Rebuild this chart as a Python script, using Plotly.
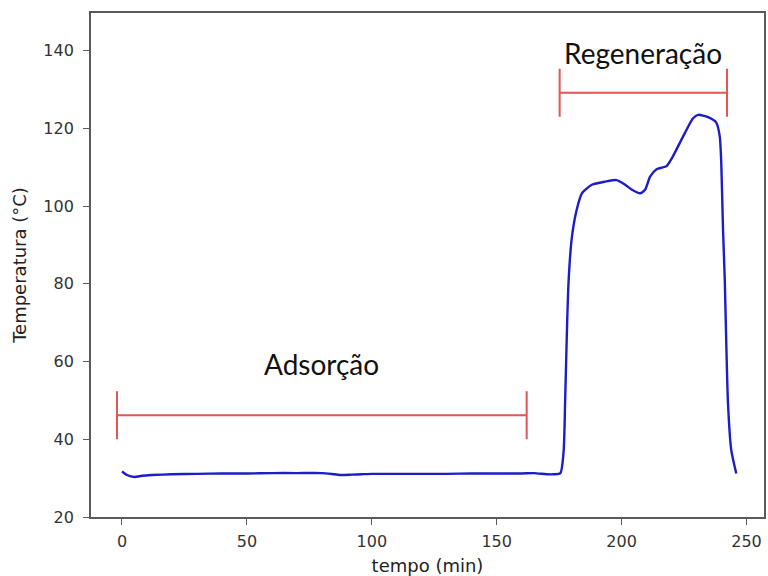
import plotly.graph_objects as go

# Temperature curve (tempo in min, temperature in °C)
tempo = [0, 2, 5, 8, 12, 20, 30, 40, 50, 60, 70, 80, 85, 88, 92, 96, 100, 110, 120, 130,
         140, 150, 160, 165, 170, 173, 175.5, 176.8, 177.4, 178.2, 178.8, 180.1, 182, 184.1,
         188.1, 193.4, 198.0, 201.4, 204, 207.4, 209.4, 211.4, 214.0, 218.0, 220.1, 225.3,
         228.6, 230.6, 234.6, 237.9, 239.3, 239.9, 240.6, 241.3, 242, 242.6, 243.9, 245.9]
temperatura = [31.7, 30.8, 30.3, 30.6, 30.8, 31.0, 31.1, 31.2, 31.2, 31.3, 31.3, 31.3, 31.0,
               30.8, 30.9, 31.0, 31.1, 31.1, 31.1, 31.1, 31.2, 31.2, 31.2, 31.3, 31.0, 31.0,
               31.3, 37, 50, 70, 81, 92, 99, 103.3, 105.5, 106.3, 106.7, 105.5, 104.3, 103.3,
               104.2, 107.6, 109.5, 110.3, 112.3, 118.8, 122.6, 123.5, 122.9, 121.5, 117.9,
               111, 93.9, 81, 62, 49, 37.2, 31.2]

# Phase interval bars
fases = ["Adsorção", "Regeneração"]
fase_inicio = [-2, 175.2]
fase_fim = [162, 242.2]
fase_y = [46.2, 129.2]
rotulo_x = [80.0, 208.5]
rotulo_y = [59.3, 139.3]

fig = go.Figure()

fig.add_trace(go.Scatter(
    x=tempo, y=temperatura, mode="lines",
    line=dict(color="#1c1cc8", width=2.4, shape="spline", smoothing=0.6),
    showlegend=False, hoverinfo="skip"))

centros = [(a + b) / 2 for a, b in zip(fase_inicio, fase_fim)]
meia = [(b - a) / 2 for a, b in zip(fase_inicio, fase_fim)]
fig.add_trace(go.Scatter(
    x=centros, y=fase_y, mode="markers",
    marker=dict(size=1, color="rgba(0,0,0,0)"),
    error_x=dict(type="data", array=meia, arrayminus=meia, symmetric=False,
                 color="#e05555", thickness=2, width=24),
    showlegend=False, hoverinfo="skip"))

for nome, rx, ry in zip(fases, rotulo_x, rotulo_y):
    fig.add_annotation(x=rx, y=ry, text=nome, showarrow=False,
                       font=dict(family="Lato", size=28, color="#111111"))

axis_common = dict(showline=True, mirror=True, linecolor="#5a5a5a", linewidth=1.8,
                   ticks="outside", ticklen=6, tickwidth=1.4, tickcolor="#5a5a5a",
                   showgrid=False, zeroline=False,
                   tickfont=dict(family="DejaVu Sans", size=16, color="#333333"))

fig.update_xaxes(range=[-12.4, 257], tickvals=[0, 50, 100, 150, 200, 250],
                 ticklabelstandoff=3,
                 title=dict(text="tempo (min)", font=dict(family="DejaVu Sans", size=18, color="#222222"),
                            standoff=10),
                 **axis_common)
fig.update_yaxes(range=[20, 149.7], tickvals=[20, 40, 60, 80, 100, 120, 140],
                 ticklabelstandoff=6,
                 title=dict(text="Temperatura (°C)", font=dict(family="DejaVu Sans", size=18, color="#222222"),
                            standoff=12),
                 **axis_common)

fig.update_layout(width=768, height=576, margin=dict(l=91, r=2, t=13, b=59),
                  plot_bgcolor="white", paper_bgcolor="white")

fig.write_html("out.html")
